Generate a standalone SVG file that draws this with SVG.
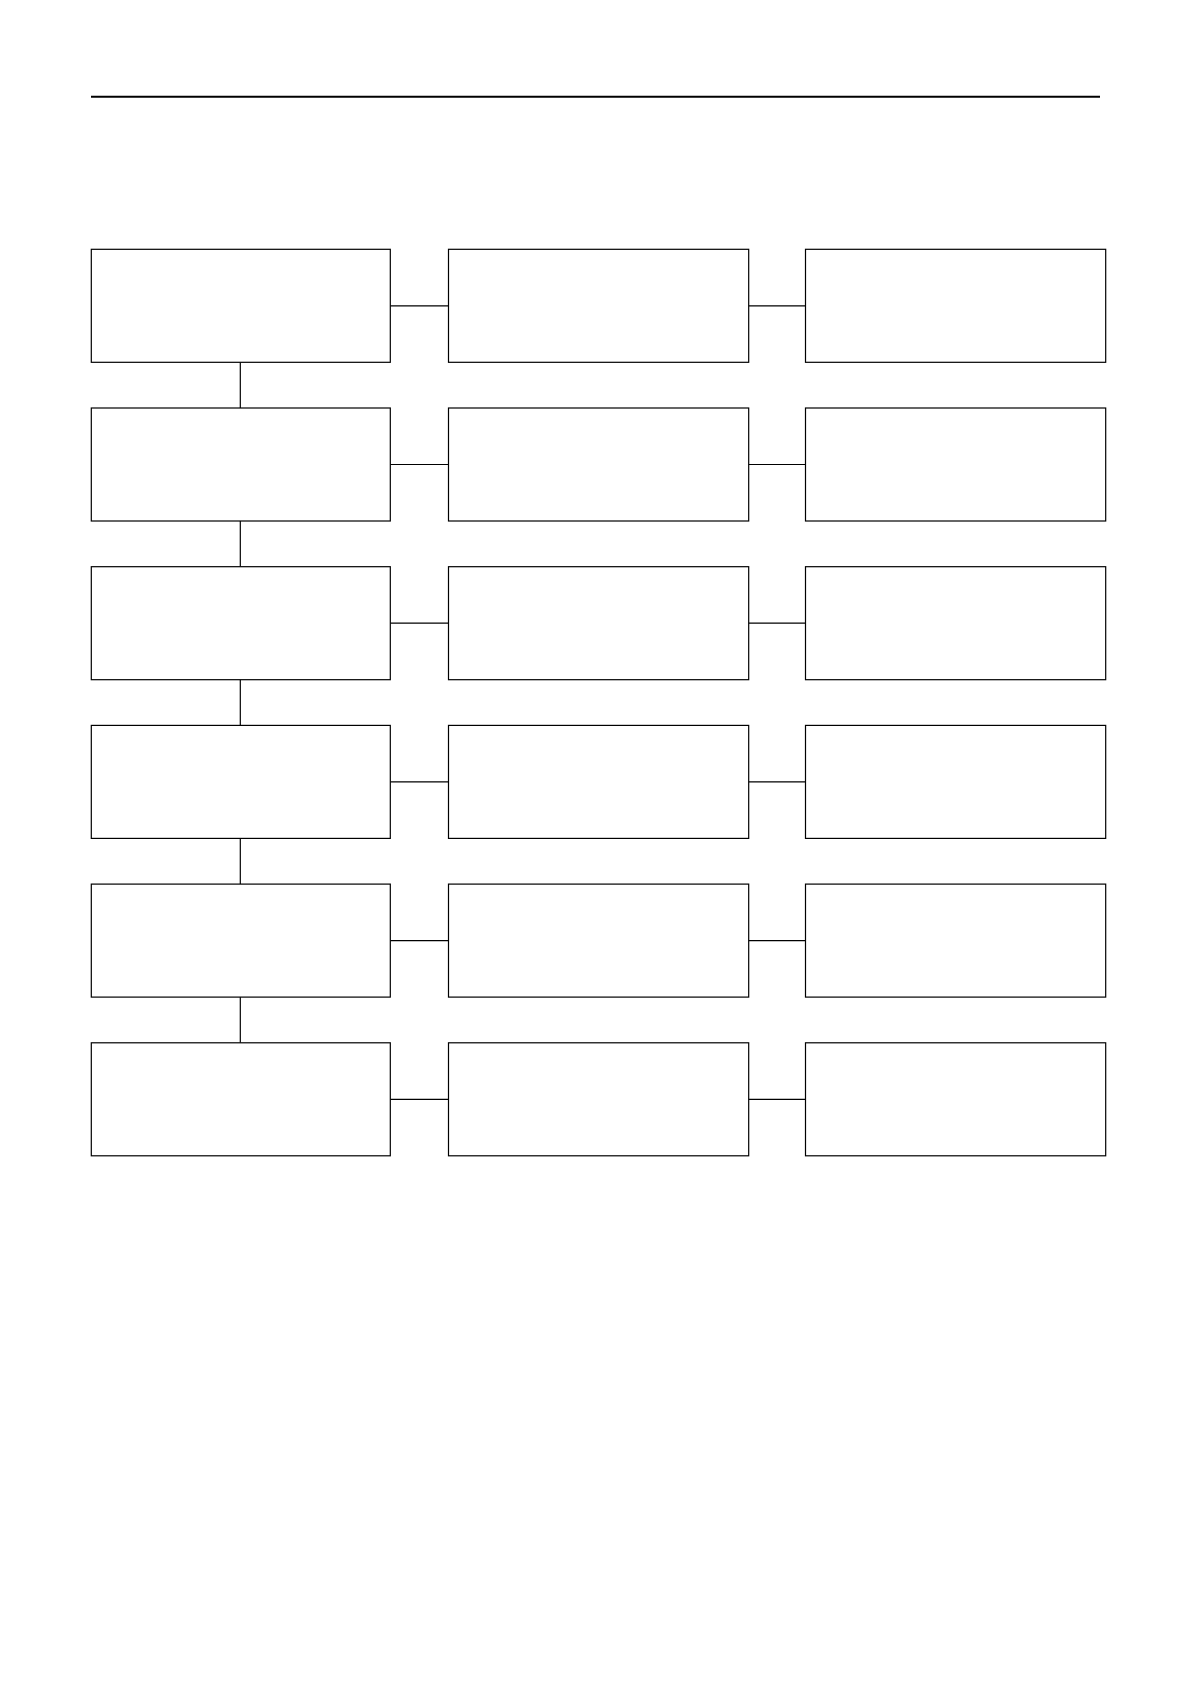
<svg xmlns="http://www.w3.org/2000/svg" width="1190" height="1684" viewBox="0 0 1190 1684">
<style>
.node{fill:#fff;stroke:#000;stroke-width:1.2}
.conn{stroke:#000;stroke-width:1.2;fill:none}
.rule{stroke:#000;stroke-width:2;fill:none}
</style>
<rect width="1190" height="1684" fill="#fff"/>
<line class="rule" x1="91" y1="96.7" x2="1100" y2="96.7"/>
<g id="connectors">
<line class="conn" x1="240.3" y1="362.3" x2="240.3" y2="408"/>
<line class="conn" x1="240.3" y1="521" x2="240.3" y2="566.7"/>
<line class="conn" x1="240.3" y1="679.7" x2="240.3" y2="725.4"/>
<line class="conn" x1="240.3" y1="838.4" x2="240.3" y2="884.1"/>
<line class="conn" x1="240.3" y1="997.1" x2="240.3" y2="1042.8"/>
<line class="conn" x1="390.3" y1="305.8" x2="448.5" y2="305.8"/>
<line class="conn" x1="748.7" y1="305.8" x2="805.5" y2="305.8"/>
<line class="conn" x1="390.3" y1="464.5" x2="448.5" y2="464.5"/>
<line class="conn" x1="748.7" y1="464.5" x2="805.5" y2="464.5"/>
<line class="conn" x1="390.3" y1="623.2" x2="448.5" y2="623.2"/>
<line class="conn" x1="748.7" y1="623.2" x2="805.5" y2="623.2"/>
<line class="conn" x1="390.3" y1="781.9" x2="448.5" y2="781.9"/>
<line class="conn" x1="748.7" y1="781.9" x2="805.5" y2="781.9"/>
<line class="conn" x1="390.3" y1="940.6" x2="448.5" y2="940.6"/>
<line class="conn" x1="748.7" y1="940.6" x2="805.5" y2="940.6"/>
<line class="conn" x1="390.3" y1="1099.3" x2="448.5" y2="1099.3"/>
<line class="conn" x1="748.7" y1="1099.3" x2="805.5" y2="1099.3"/>
</g>
<g id="n1-1"><rect class="node" x="91.3" y="249.3" width="299" height="113"/></g>
<g id="n1-2"><rect class="node" x="448.5" y="249.3" width="300.2" height="113"/></g>
<g id="n1-3"><rect class="node" x="805.5" y="249.3" width="300.2" height="113"/></g>
<g id="n2-1"><rect class="node" x="91.3" y="408" width="299" height="113"/></g>
<g id="n2-2"><rect class="node" x="448.5" y="408" width="300.2" height="113"/></g>
<g id="n2-3"><rect class="node" x="805.5" y="408" width="300.2" height="113"/></g>
<g id="n3-1"><rect class="node" x="91.3" y="566.7" width="299" height="113"/></g>
<g id="n3-2"><rect class="node" x="448.5" y="566.7" width="300.2" height="113"/></g>
<g id="n3-3"><rect class="node" x="805.5" y="566.7" width="300.2" height="113"/></g>
<g id="n4-1"><rect class="node" x="91.3" y="725.4" width="299" height="113"/></g>
<g id="n4-2"><rect class="node" x="448.5" y="725.4" width="300.2" height="113"/></g>
<g id="n4-3"><rect class="node" x="805.5" y="725.4" width="300.2" height="113"/></g>
<g id="n5-1"><rect class="node" x="91.3" y="884.1" width="299" height="113"/></g>
<g id="n5-2"><rect class="node" x="448.5" y="884.1" width="300.2" height="113"/></g>
<g id="n5-3"><rect class="node" x="805.5" y="884.1" width="300.2" height="113"/></g>
<g id="n6-1"><rect class="node" x="91.3" y="1042.8" width="299" height="113"/></g>
<g id="n6-2"><rect class="node" x="448.5" y="1042.8" width="300.2" height="113"/></g>
<g id="n6-3"><rect class="node" x="805.5" y="1042.8" width="300.2" height="113"/></g>
</svg>
